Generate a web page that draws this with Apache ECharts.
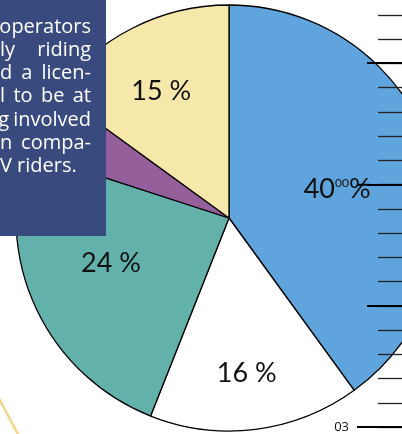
<!DOCTYPE html>
<html>
<head>
<meta charset="utf-8">
<script src="https://cdn.jsdelivr.net/npm/echarts@6/dist/echarts.min.js"></script>
<style>
  html, body { margin: 0; padding: 0; background: #fff; }
  #main { width: 402px; height: 434px; }
</style>
</head>
<body>
<div id="main"></div>
<script>
// slices, clockwise from 12 o'clock
var categories = ['A', 'B', 'C', 'D', 'E'];
var shares = [40, 16, 24, 5, 15];
var labelTexts = ['40{s|00}%', '16 %', '24 %', '', '15 %'];
// text box lines (cut off on the left in the source), justified
var boxLines = ['operators', 'ly riding', 'd a licen-', 'l to be at', 'g involved', 'n compa-', 'V riders.'];
// ruler on the right edge
var rulerShortMax = 17;
var rulerLongMax = 15;
var rulerLabels = { 0: '03' };

var colors = ['#5fa4dd', '#ffffff', '#62b1ab', '#955f9b', '#f6e7aa'];
var offsets = [[4, 5], [4, 47], [-19, -1], [0, 0], [-18, -29]];

var myChart = echarts.init(document.getElementById('main'));

var pieData = [];
for (var i = 0; i < shares.length; i++) {
  pieData.push({
    name: categories[i],
    value: shares[i],
    itemStyle: { color: colors[i] },
    label: { show: labelTexts[i] !== '', offset: offsets[i] }
  });
}

var graphics = [
  {
    type: 'line',
    shape: { x1: -6, y1: 389, x2: 21, y2: 440 },
    style: { stroke: '#f3d68c', lineWidth: 2.5 },
    z: 1
  },
  {
    type: 'line',
    shape: { x1: 357, y1: 427, x2: 370, y2: 427 },
    style: { stroke: '#000', lineWidth: 2 },
    z: 20
  },
  {
    type: 'line',
    shape: { x1: 358, y1: 184.8, x2: 370, y2: 184.8 },
    style: { stroke: '#000', lineWidth: 2 },
    z: 20
  },
  {
    type: 'rect',
    shape: { x: 0, y: 0, width: 106, height: 236 },
    style: { fill: '#394a7e' },
    z: 100
  }
];

// justified text: words spread between left 0 and right 91, last line left aligned
var boxSize = 20;
var measure = document.createElement('canvas').getContext('2d');
measure.font = boxSize + 'px "Open Sans"';
var spaceW = measure.measureText(' ').width;
var boxLeft = 0, boxRight = 91;
for (var j = 0; j < boxLines.length; j++) {
  var words = boxLines[j].split(' ');
  var ws = words.map(function (w) { return measure.measureText(w).width; });
  var total = ws.reduce(function (a, b) { return a + b; }, 0);
  var n = words.length;
  var gap, x;
  if (j === boxLines.length - 1) {
    gap = spaceW;
    x = boxLeft;
  } else {
    gap = n > 1 ? Math.max((boxRight - boxLeft - total) / (n - 1), spaceW * 0.8) : 0;
    x = boxRight - total - gap * (n - 1);
  }
  for (var k = 0; k < n; k++) {
    graphics.push({
      type: 'text',
      x: x,
      y: 17 + j * 23.2,
      style: {
        text: words[k],
        fill: '#ffffff',
        fontSize: boxSize,
        fontFamily: 'Open Sans',
        align: 'left',
        verticalAlign: 'alphabetic'
      },
      z: 101
    });
    x += ws[k] + gap;
  }
}

function rulerAxis(gridIndex, max, interval, len, width, color, labels) {
  return {
    type: 'value',
    gridIndex: gridIndex,
    position: 'right',
    min: 0,
    max: max,
    interval: interval,
    z: 10,
    axisLine: { show: false, onZero: false },
    splitLine: { show: false },
    axisTick: { inside: true, length: len, lineStyle: { color: color, width: width } },
    axisLabel: {
      show: labels,
      inside: true,
      margin: 53,
      fontFamily: 'Open Sans',
      fontSize: 13,
      color: '#111',
      formatter: function (v) { return rulerLabels[v] || ''; }
    }
  };
}

var option = {
  animation: false,
  grid: [
    { left: 300, right: 0, top: 15, bottom: 7 },
    { left: 300, right: 0, top: 63, bottom: 7 }
  ],
  xAxis: [
    { type: 'value', gridIndex: 0, show: false },
    { type: 'value', gridIndex: 1, show: false }
  ],
  yAxis: [
    rulerAxis(0, rulerShortMax, 1, 24, 1.3, '#222', false),
    rulerAxis(1, rulerLongMax, 5, 35, 2, '#000', true)
  ],
  series: [{
    type: 'pie',
    center: [229, 218],
    radius: [0, 213],
    startAngle: 90,
    clockwise: true,
    silent: true,
    z: 2,
    itemStyle: { borderColor: '#000', borderWidth: 1.3 },
    label: {
      position: 'inside',
      fontFamily: 'Lato',
      fontSize: 27,
      color: '#111',
      formatter: function (p) { return labelTexts[p.dataIndex]; },
      rich: { s: { fontFamily: 'Lato', fontSize: 12, color: '#111', padding: [0, 0, 12, 0] } }
    },
    labelLine: { show: false },
    data: pieData
  }],
  graphic: graphics
};
myChart.setOption(option);
</script>
</body>
</html>
